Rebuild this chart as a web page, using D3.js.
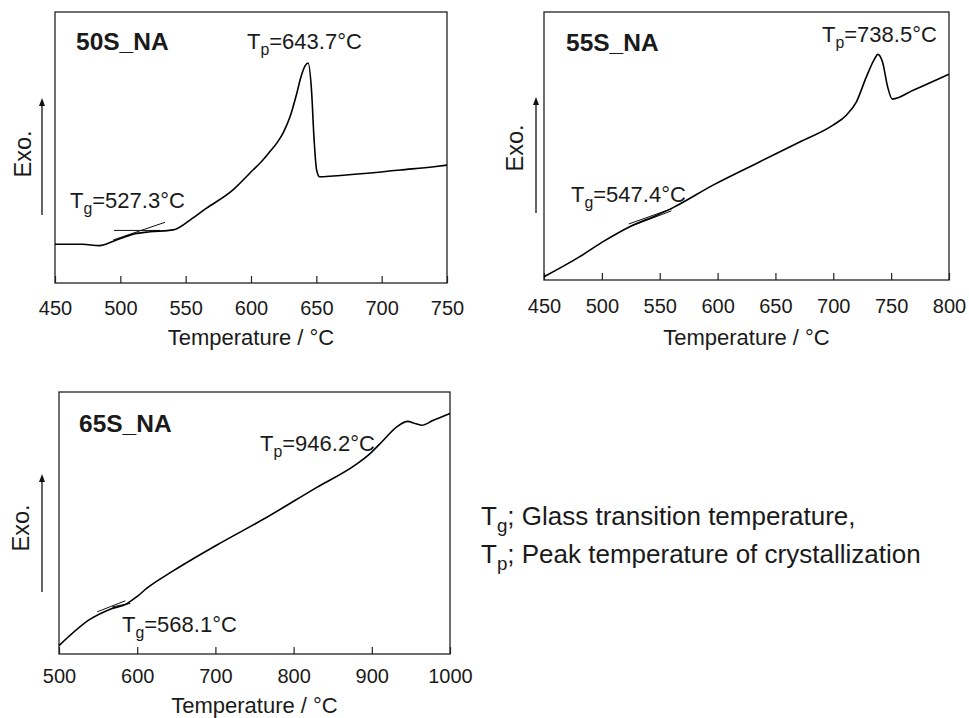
<!DOCTYPE html>
<html>
<head>
<meta charset="utf-8">
<script src="https://cdn.jsdelivr.net/npm/d3@7"></script>
<style>
  html, body { margin: 0; padding: 0; background: #fff; }
  svg { display: block; font-family: "Liberation Sans", Arial, Helvetica, sans-serif; }
</style>
</head>
<body>
<svg id="chart" width="969" height="718"></svg>
<script>
// DSC traces (signal in arbitrary units, 0-100 over each frame height)
const temp50 = [450, 471, 484, 497, 512.5, 522.7, 540.5, 553.3, 566, 586, 601.5, 607, 614.5, 620, 625, 630, 634.5, 638.5, 641.5, 643.7, 646.3, 648.3, 650.2, 652.5, 663, 689, 714, 740, 750];
const sig50  = [14.3, 14.3, 13.8, 15.9, 18.3, 18.9, 19.6, 23.2, 27.6, 34.3, 41.7, 44.3, 48.5, 51.8, 55.8, 61.5, 69.0, 76.5, 80.2, 81.2, 71.2, 52.8, 41.7, 39.2, 39.5, 40.5, 41.7, 42.9, 43.5];

const temp55 = [450, 480.9, 501, 524.1, 547.1, 561.5, 596.1, 633.6, 671, 699.8, 711.3, 720, 728.6, 735.8, 738.5, 742.5, 747, 751, 769, 800];
const sig55  = [1.2, 8.7, 14.3, 19.9, 24.1, 27.0, 35.4, 43.5, 51.5, 57.8, 61.5, 66.5, 75.8, 82.6, 84.2, 81.4, 72.0, 67.5, 70.8, 76.8];

const temp65 = [500, 540, 565.5, 586.9, 599.7, 612.4, 646.4, 701.9, 765.8, 829.7, 878.6, 897.8, 914.8, 931.9, 946.2, 953.1, 963.8, 978.7, 1000];
const sig65  = [3.2, 13.3, 17.1, 19.2, 21.9, 25.1, 31.8, 41.6, 52.2, 63.6, 72.1, 76.5, 81.6, 86.7, 88.8, 88.2, 87.3, 89.2, 91.8];

// Tangent construction lines around the glass transition: [T1, s1, T2, s2]
const tangents50 = [[495.2, 19.4, 530.4, 19.4], [494.6, 15.9, 534.2, 22.4]];
const tangents55 = [[523.2, 20.9, 561.0, 26.7], [525.5, 20.1, 560.1, 25.8]];
const tangents65 = [[548.9, 16.1, 584.7, 20.3], [568.1, 18.0, 591.1, 19.3]];

// Sample names and characteristic temperatures
const sampleNames = ["50S_NA", "55S_NA", "65S_NA"];
const tgValues = [527.3, 547.4, 568.1];
const tpValues = [643.7, 738.5, 946.2];

// Axis ticks
const ticks50 = [450, 500, 550, 600, 650, 700, 750];
const ticks55 = [450, 500, 550, 600, 650, 700, 750, 800];
const ticks65 = [500, 600, 700, 800, 900, 1000];

const xTitle = "Temperature / \u00B0C";
const yTitle = "Exo.";
const legendLines = [["T", "g", "; Glass transition temperature,"], ["T", "p", "; Peak temperature of crystallization"]];

// Panel layout
const panels = [
  { temps: temp50, sigs: sig50, tangents: tangents50, ticks: ticks50, domain: [450, 750],
    frame: { l: 55, r: 447, t: 12, b: 283 },
    title: [76, 50], tp: [247, 49], tg: [70, 208], exo: [22, 154], arrow: [42, 215, 98],
    tickBase: 315, xTitleBase: 345 },
  { temps: temp55, sigs: sig55, tangents: tangents55, ticks: ticks55, domain: [450, 800],
    frame: { l: 544, r: 949, t: 12, b: 280 },
    title: [566, 51], tp: [822, 42], tg: [571, 202], exo: [514, 148], arrow: [536, 213, 97],
    tickBase: 313, xTitleBase: 345 },
  { temps: temp65, sigs: sig65, tangents: tangents65, ticks: ticks65, domain: [500, 1000],
    frame: { l: 59, r: 450, t: 392, b: 654 },
    title: [79, 432], tp: [260, 451], tg: [122, 632], exo: [20, 528], arrow: [42, 592, 474],
    tickBase: 683, xTitleBase: 713 }
];

const svg = d3.select("#chart");
const ink = "#1a1a1a";

function subLabel(g, x, y, main, sub, rest, size) {
  const t = g.append("text").attr("x", x).attr("y", y)
    .attr("font-size", size).attr("fill", ink);
  t.append("tspan").text(main);
  t.append("tspan").attr("font-size", size * 0.72).attr("dy", size * 0.28).text(sub);
  t.append("tspan").attr("dy", -size * 0.28).text(rest);
  return t;
}

panels.forEach((p, i) => {
  const f = p.frame;
  const x = d3.scaleLinear().domain(p.domain).range([f.l, f.r]);
  const y = d3.scaleLinear().domain([0, 100]).range([f.b, f.t]);
  const g = svg.append("g");

  // frame
  g.append("rect").attr("x", f.l).attr("y", f.t)
    .attr("width", f.r - f.l).attr("height", f.b - f.t)
    .attr("fill", "none").attr("stroke", "#222").attr("stroke-width", 1.3);

  // bottom axis with inward ticks
  const ax = g.append("g").attr("transform", `translate(0,${f.b})`)
    .call(d3.axisBottom(x).tickValues(p.ticks).tickSizeInner(-7).tickSizeOuter(0)
      .tickFormat(d3.format("d")));
  ax.select(".domain").remove();
  ax.selectAll(".tick line").attr("stroke", "#222").attr("stroke-width", 1.2);
  ax.selectAll(".tick text").attr("font-size", 20).attr("fill", ink)
    .attr("font-family", "Liberation Sans, Arial, sans-serif")
    .attr("dy", null).attr("y", p.tickBase - f.b);

  // x-axis title
  g.append("text").attr("x", (f.l + f.r) / 2).attr("y", p.xTitleBase)
    .attr("text-anchor", "middle").attr("font-size", 22).attr("fill", ink).text(xTitle);

  // y label and arrow
  g.append("text").attr("transform", `translate(${p.exo[0] + 8.5},${p.exo[1]}) rotate(-90)`)
    .attr("text-anchor", "middle").attr("font-size", 23.5).attr("fill", ink).text(yTitle);
  const [ax0, ay0, ay1] = p.arrow;
  g.append("line").attr("x1", ax0).attr("x2", ax0).attr("y1", ay0).attr("y2", ay1 + 6)
    .attr("stroke", "#111").attr("stroke-width", 1.3);
  g.append("path").attr("d", `M${ax0},${ay1} L${ax0 - 3},${ay1 + 8} L${ax0 + 3},${ay1 + 8} Z`)
    .attr("fill", "#111");

  // tangent lines
  p.tangents.forEach(tn => {
    g.append("line").attr("x1", x(tn[0])).attr("y1", y(tn[1]))
      .attr("x2", x(tn[2])).attr("y2", y(tn[3]))
      .attr("stroke", "#111").attr("stroke-width", 1);
  });

  // DSC curve
  const pts = p.temps.map((t, k) => [t, p.sigs[k]]);
  const line = d3.line().x(d => x(d[0])).y(d => y(d[1])).curve(d3.curveMonotoneX);
  g.append("path").datum(pts).attr("d", line)
    .attr("fill", "none").attr("stroke", "#000").attr("stroke-width", 1.6)
    .attr("stroke-linejoin", "round");

  // sample name
  g.append("text").attr("x", p.title[0]).attr("y", p.title[1])
    .attr("font-size", 24.5).attr("font-weight", "bold").attr("fill", ink).text(sampleNames[i]);

  // Tp and Tg annotations
  subLabel(g, p.tp[0], p.tp[1], "T", "p", `=${tpValues[i].toFixed(1)}\u00B0C`, 22);
  subLabel(g, p.tg[0], p.tg[1], "T", "g", `=${tgValues[i].toFixed(1)}\u00B0C`, 22);
});

// legend text
legendLines.forEach((l, k) => {
  subLabel(svg, 481, 525 + k * 38, l[0], l[1], l[2], 26);
});
</script>
</body>
</html>
